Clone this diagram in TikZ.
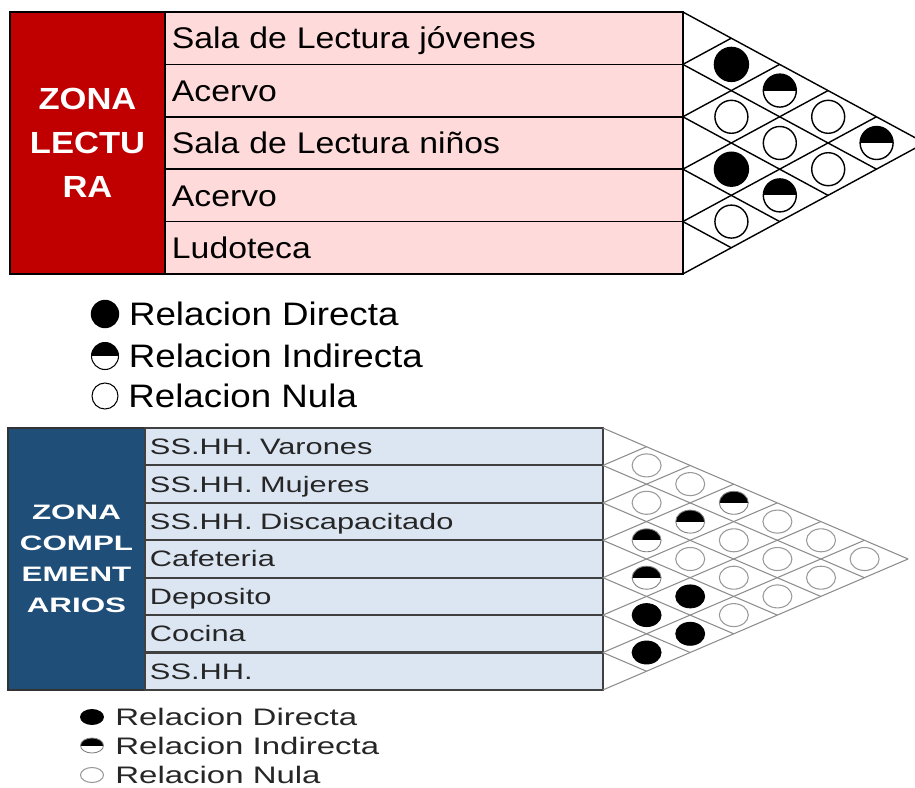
\documentclass[tikz,border=0pt]{standalone}
\usepackage{fontspec}
\usepackage{tikz}
\usetikzlibrary{positioning,shapes.geometric}
\newfontfamily\rowfont[FakeStretch=1.13]{Liberation Sans}
\newfontfamily\widefont[FakeStretch=1.38]{Liberation Sans}
\newfontfamily\widerfont[FakeStretch=1.5]{Liberation Sans}
\definecolor{lecred}{RGB}{192,0,0}
\definecolor{lecpink}{RGB}{255,218,218}
\definecolor{comnavy}{RGB}{31,78,121}
\definecolor{comblue}{RGB}{220,230,242}

\tikzset{
  lecbox/.style={draw=black, line width=1.5pt, fill=lecred, text=white, outer sep=0pt, anchor=north west,
    minimum width=3.1cm, minimum height=5.24cm, align=center, font=\rowfont\bfseries\fontsize{17.4}{25}\selectfont},
  lecrow/.style={draw=black, line width=1pt, fill=lecpink, outer sep=0pt, minimum height=1.048cm,
    text width=10.08cm, inner xsep=0.14cm, align=left, text height=12.2pt, text depth=0pt,
    font=\rowfont\fontsize{17}{20}\selectfont},
  combox/.style={draw=black!80, line width=1.2pt, fill=comnavy, text=white, outer sep=0pt, anchor=north west,
    minimum width=2.74cm, minimum height=5.24cm, align=center, font=\widerfont\bfseries\fontsize{11.9}{17.6}\selectfont},
  comrow/.style={draw=black!75, line width=1.2pt, fill=comblue, outer sep=0pt, minimum height=0.7486cm,
    text width=8.96cm, inner xsep=0.1cm, align=left, text height=9.1pt, text depth=0pt, text=black!85,
    font=\widefont\fontsize{12.7}{15}\selectfont},
  topgrid/.style={draw=black, line width=0.8pt},
  comgrid/.style={draw=black!45, line width=0.6pt},
  topdir/.style={circle, draw=black, line width=0.8pt, fill=black, minimum size=0.68cm, inner sep=0pt},
  topind/.style={circle, draw=black, line width=0.8pt, fill=white, minimum size=0.66cm, inner sep=0pt,
    path picture={\fill[black] (path picture bounding box.north west) rectangle (path picture bounding box.east);}},
  topnul/.style={circle, draw=black, line width=0.8pt, fill=white, minimum size=0.66cm, inner sep=0pt},
  comdir/.style={ellipse, draw=black, line width=0.5pt, fill=black, minimum width=0.58cm, minimum height=0.46cm, inner sep=0pt},
  comind/.style={ellipse, draw=black!50, line width=0.5pt, fill=white, minimum width=0.58cm, minimum height=0.46cm, inner sep=0pt,
    path picture={\fill[black] (path picture bounding box.north west) rectangle (path picture bounding box.east);}},
  comnul/.style={ellipse, draw=black!40, line width=0.6pt, fill=white, minimum width=0.58cm, minimum height=0.46cm, inner sep=0pt},
  legtop/.style={inner sep=0pt, font=\rowfont\fontsize{18.5}{21}\selectfont},
  legcom/.style={inner sep=0pt, text=black!85, font=\widefont\fontsize{13.6}{16}\selectfont}
}

\begin{document}
\begin{tikzpicture}[x=0.02cm, y=-0.02cm]
\useasboundingbox (0,0) rectangle (915,787);
\clip (0,0) rectangle (915,787);

% zona lectura
\node[lecbox] (zonalec) at (10,12) {ZONA\\LECTU\\RA};
\node[lecrow, anchor=north west] (lec1) at (zonalec.north east) {Sala de Lectura jóvenes};
\node[lecrow, below=0pt of lec1] (lec2) {Acervo};
\node[lecrow, below=0pt of lec2] (lec3) {Sala de Lectura niños};
\node[lecrow, below=0pt of lec3] (lec4) {Acervo};
\node[lecrow, below=0pt of lec4] (lec5) {Ludoteca};

\draw[topgrid] (lec1.north east) -- ++(242,131)
  (lec1.south east) -- ++(193.6,104.8)
  (lec2.south east) -- ++(145.2,78.6)
  (lec3.south east) -- ++(96.8,52.4)
  (lec4.south east) -- ++(48.4,26.2);
\draw[topgrid] (lec5.south east) -- ++(242,-131)
  (lec4.south east) -- ++(193.6,-104.8)
  (lec3.south east) -- ++(145.2,-78.6)
  (lec2.south east) -- ++(96.8,-52.4)
  (lec1.south east) -- ++(48.4,-26.2);

\node[topdir] (c12) at (731.4,64.4) {};
\node[topind] (c13) at (779.8,90.6) {};
\node[topnul] (c23) at (731.4,116.8) {};
\node[topnul] (c14) at (828.2,116.8) {};
\node[topnul] (c24) at (779.8,143) {};
\node[topind] (c15) at (876.6,143) {};
\node[topdir] (c34) at (731.4,169.2) {};
\node[topnul] (c25) at (828.2,169.2) {};
\node[topind] (c35) at (779.8,195.4) {};
\node[topnul] (c45) at (731.4,221.6) {};

% leyenda
\node[topdir, minimum size=0.54cm] (ldir) at (105,314) {};
\node[legtop, right=0.19cm of ldir] (tdir) {Relacion Directa};
\node[topind, minimum width=0.54cm, minimum height=0.5cm, line width=0.6pt] (lind) at (105,356) {};
\node[legtop, right=0.19cm of lind] (tind) {Relacion Indirecta};
\node[topnul, minimum size=0.52cm, line width=0.6pt] (lnul) at (105,396) {};
\node[legtop, right=0.19cm of lnul] (tnul) {Relacion Nula};

% zona complementarios
\node[combox] (zonacom) at (8,428) {ZONA\\COMPL\\EMENT\\ARIOS};
\node[comrow, anchor=north west] (com1) at (zonacom.north east) {SS.HH. Varones};
\node[comrow, below=0pt of com1] (com2) {SS.HH. Mujeres};
\node[comrow, below=0pt of com2] (com3) {SS.HH. Discapacitado};
\node[comrow, below=0pt of com3] (com4) {Cafeteria};
\node[comrow, below=0pt of com4] (com5) {Deposito};
\node[comrow, below=0pt of com5] (com6) {Cocina};
\node[comrow, below=0pt of com6] (com7) {SS.HH.};

\draw[comgrid] (com1.north east) -- ++(305.2,131)
  (com1.south east) -- ++(261.6,112.3)
  (com2.south east) -- ++(218,93.6)
  (com3.south east) -- ++(174.4,74.8)
  (com4.south east) -- ++(130.8,56.1)
  (com5.south east) -- ++(87.2,37.4)
  (com6.south east) -- ++(43.6,18.7);
\draw[comgrid] (com7.south east) -- ++(305.2,-131)
  (com6.south east) -- ++(261.6,-112.3)
  (com5.south east) -- ++(218,-93.6)
  (com4.south east) -- ++(174.4,-74.8)
  (com3.south east) -- ++(130.8,-56.1)
  (com2.south east) -- ++(87.2,-37.4)
  (com1.south east) -- ++(43.6,-18.7);

\node[comnul] (k12) at (646.6,465.4) {};
\node[comnul] (k13) at (690.2,484.1) {};
\node[comnul] (k23) at (646.6,502.8) {};
\node[comind] (k14) at (733.8,502.8) {};
\node[comind] (k24) at (690.2,521.6) {};
\node[comnul] (k15) at (777.4,521.6) {};
\node[comind] (k34) at (646.6,540.3) {};
\node[comnul] (k25) at (733.8,540.3) {};
\node[comnul] (k16) at (821,540.3) {};
\node[comnul] (k35) at (690.2,559) {};
\node[comnul] (k26) at (777.4,559) {};
\node[comnul] (k17) at (864.6,559) {};
\node[comind] (k45) at (646.6,577.7) {};
\node[comnul] (k36) at (733.8,577.7) {};
\node[comnul] (k27) at (821,577.7) {};
\node[comdir] (k46) at (690.2,596.4) {};
\node[comnul] (k37) at (777.4,596.4) {};
\node[comdir] (k56) at (646.6,615.1) {};
\node[comnul] (k47) at (733.8,615.1) {};
\node[comdir] (k57) at (690.2,633.8) {};
\node[comdir] (k67) at (646.6,652.5) {};

% leyenda
\node[comdir, minimum width=0.46cm, minimum height=0.3cm] (mdir) at (92,717) {};
\node[legcom, right=0.22cm of mdir] (sdir) {Relacion Directa};
\node[comind, minimum width=0.46cm, minimum height=0.3cm] (mind) at (92,745.5) {};
\node[legcom, right=0.22cm of mind] (sind) {Relacion Indirecta};
\node[comnul, minimum width=0.46cm, minimum height=0.3cm] (mnul) at (92,775) {};
\node[legcom, right=0.22cm of mnul] (snul) {Relacion Nula};
\end{tikzpicture}
\end{document}
